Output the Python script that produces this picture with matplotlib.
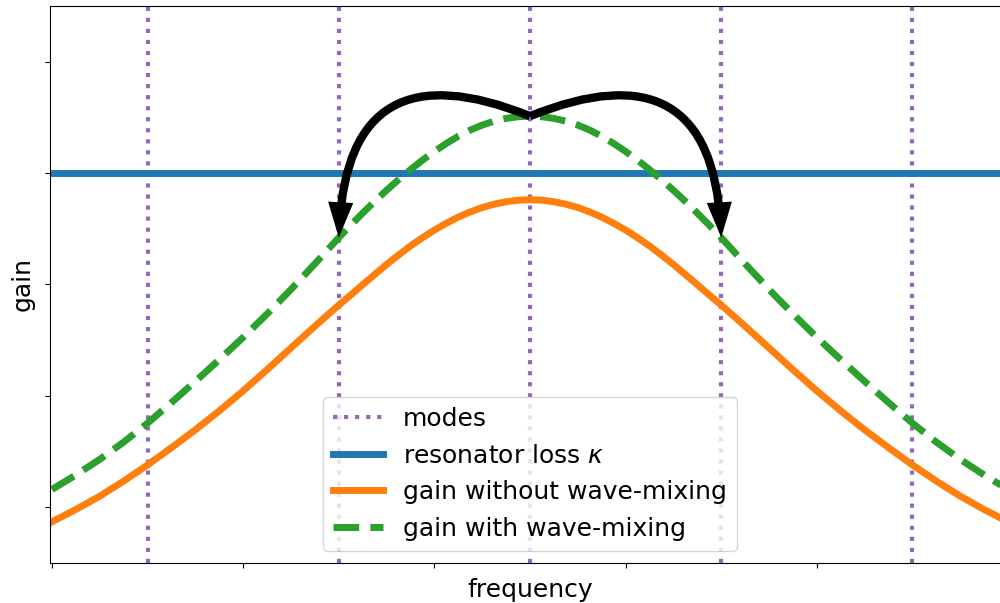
import matplotlib
matplotlib.use("Agg")
import matplotlib.pyplot as plt
from matplotlib.patches import FancyArrowPatch

plt.rcParams['font.size'] = 18

# frequency grid (mode spacing = 1)
freq = [-2.5, -2.375, -2.25, -2.125, -2.0, -1.875, -1.75, -1.625, -1.5, -1.375,
        -1.25, -1.125, -1.0, -0.9375, -0.875, -0.8125, -0.75, -0.6875, -0.625, -0.5625,
        -0.5, -0.4375, -0.375, -0.3125, -0.25, -0.1875, -0.125, -0.0625,
        0.0,
        0.0625, 0.125, 0.1875, 0.25, 0.3125, 0.375, 0.4375, 0.5,
        0.5625, 0.625, 0.6875, 0.75, 0.8125, 0.875, 0.9375, 1.0, 1.125,
        1.25, 1.375, 1.5, 1.625, 1.75, 1.875, 2.0, 2.125, 2.25, 2.375, 2.5]

gain_without = [-0.13, -0.02, 0.10, 0.235, 0.38, 0.535, 0.695, 0.865, 1.045, 1.235,
                1.43, 1.625, 1.815, 1.905, 1.998, 2.089, 2.179, 2.264, 2.345, 2.419,
                2.488, 2.549, 2.604, 2.651, 2.690, 2.720, 2.742, 2.756,
                2.76,
                2.756, 2.742, 2.720, 2.690, 2.651, 2.604, 2.549, 2.488,
                2.419, 2.345, 2.264, 2.179, 2.089, 1.998, 1.905, 1.815, 1.625,
                1.43, 1.235, 1.045, 0.865, 0.695, 0.535, 0.38, 0.235, 0.10, -0.02, -0.13]

gain_with = [0.16, 0.29, 0.43, 0.585, 0.755, 0.94, 1.13, 1.325, 1.525, 1.735,
             1.955, 2.185, 2.42, 2.532, 2.64, 2.745, 2.845, 2.94, 3.03, 3.115,
             3.193, 3.265, 3.33, 3.385, 3.43, 3.465, 3.49, 3.505,
             3.51,
             3.505, 3.49, 3.465, 3.43, 3.385, 3.33, 3.265, 3.193,
             3.115, 3.03, 2.94, 2.845, 2.745, 2.64, 2.532, 2.42, 2.185,
             1.955, 1.735, 1.525, 1.325, 1.13, 0.94, 0.755, 0.585, 0.43, 0.29, 0.16]

modes = [-2, -1, 0, 1, 2]
kappa = 3.0

xticks = [-2.5, -1.5, -0.5, 0.5, 1.5, 2.5]
yticks = [0, 1, 2, 3, 4]

fig = plt.figure(figsize=(10, 6.03), dpi=100)
ax = fig.add_axes([0.05, 0.0663, 0.96, 0.924])

for i, m in enumerate(modes):
    ax.axvline(m, color='#9467bd', ls=':', lw=3, label='modes' if i == 0 else None)
ax.axhline(kappa, color='#1f77b4', lw=5, label=r'resonator loss $\kappa$')
ax.plot(freq, gain_without, color='#ff7f0e', lw=5, label='gain without wave-mixing')
ax.plot(freq, gain_with, color='#2ca02c', lw=5, ls='--', label='gain with wave-mixing')

ax.set_xlim(-2.51, 2.51)
ax.set_ylim(-0.5, 4.5)
ax.set_xticks(xticks)
ax.set_xticklabels([])
ax.set_yticks(yticks)
ax.set_yticklabels([])
ax.set_xlabel('frequency')
ax.set_ylabel('gain')

peak_idx = freq.index(0.0)
for target, rad in [(-1.0, 0.7), (1.0, -0.7)]:
    j = freq.index(target)
    arr = FancyArrowPatch((0.0, gain_with[peak_idx]), (target, gain_with[j]),
                          connectionstyle=f"arc3,rad={rad}",
                          arrowstyle="-|>,head_length=0.45,head_width=0.16",
                          mutation_scale=30, lw=6, color='black',
                          joinstyle='miter', capstyle='butt',
                          shrinkA=0, shrinkB=0, zorder=5)
    ax.add_patch(arr)

ax.legend(loc='lower center')

fig.savefig('out.png', dpi=100)
